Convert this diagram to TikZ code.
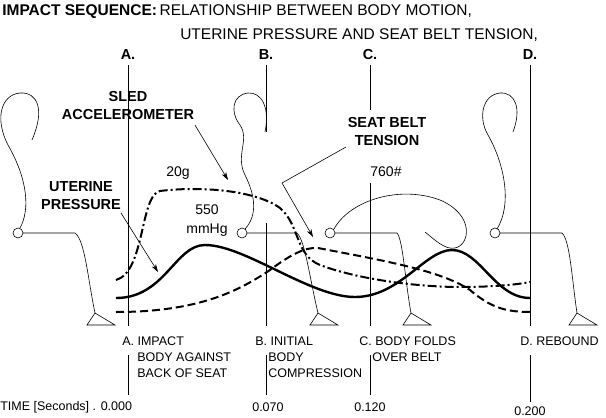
\documentclass[tikz,border=0pt]{standalone}
\usepackage{fontspec}
\setmainfont{Liberation Sans}
\usetikzlibrary{arrows.meta}

\begin{document}
\begin{tikzpicture}[
        x = 1pt, y = -1pt,
        > = {Stealth[length=8pt, width=5pt]}, % arrow head style
        semithick, % line style
        lbl/.style = {font=\fontsize{14.5}{15}\selectfont\bfseries, align=center, inner sep=0pt},
        note/.style = {font=\fontsize{14}{15}\selectfont, inner sep=0pt},
        small/.style = {font=\fontsize{12.5}{16}\selectfont, align=left, anchor=west, inner sep=0pt},
        tline/.style = {-, line width=0.6pt},
        body/.style = {line width=0.6pt}
    ]

    \useasboundingbox (0,0) rectangle (606,418);

    % title
    \node[anchor=west, inner sep=0pt, font=\fontsize{15.5}{16}\selectfont] (T1) at (2,12)
        {\textbf{IMPACT SEQUENCE:}\,RELATIONSHIP BETWEEN BODY MOTION,};
    \node[anchor=west, inner sep=0pt, font=\fontsize{15.5}{16}\selectfont] (T2) at (180,35)
        {UTERINE PRESSURE AND SEAT BELT TENSION,};

    % time marks
    \node[lbl] (A) at (128,55) {A.};
    \node[lbl] (B) at (266,55) {B.};
    \node[lbl] (C) at (370,55) {C.};
    \node[lbl] (D) at (530,55) {D.};
    \foreach \n/\x/\e in {A/128/395, B/266/395, C/370/395, D/530/402} {
        \coordinate (\n e) at (\x,326);
        \coordinate (\n f) at (\x,355);
        \coordinate (\n b) at (\x,\e);
        \draw[tline] (\n f) -- (\n b);
    }
    \coordinate (Bm) at (266,132);
    \coordinate (Bn) at (266,223);
    \coordinate (Cm) at (370,110);
    \coordinate (Cn) at (370,183);
    \draw[tline] (A) ++(0,10) -- (Ae);
    \draw[tline] (B) ++(0,10) -- (Bm);
    \draw[tline] (Bn) -- (Be);
    \draw[tline] (C) ++(0,10) -- (Cm);
    \draw[tline] (Cn) -- (Ce);
    \draw[tline] (D) ++(0,10) -- (De);

    % seated figures
    \draw[body] (32,140) .. controls (45,110) and (38,92) .. (20,93)
        .. controls (0,95) and (-5,120) .. (8,145)
        .. controls (28,180) and (30,210) .. (20,228);
    \draw[body] (18,233) circle (5);
    \draw[body] (23,233) -- (75,233) .. controls (85,240) and (88,280) .. (95,313);
    \draw[body] (87,325) -- (95,313) -- (115,325) -- cycle;

    \draw[body] (265,132) .. controls (270,108) and (262,92) .. (248,93)
        .. controls (232,95) and (230,112) .. (240,125)
        .. controls (250,140) and (235,155) .. (245,175)
        .. controls (255,195) and (258,215) .. (245,229);
    \draw[body] (242,233) circle (5);
    \draw[body] (247,233) -- (297,233) .. controls (305,240) and (310,280) .. (318,313);
    \draw[body] (310,325) -- (318,313) -- (338,325) -- cycle;

    \draw[body] (334,229) .. controls (350,200) and (400,185) .. (440,200)
        .. controls (475,215) and (470,245) .. (455,248)
        .. controls (445,250) and (435,240) .. (425,232);
    \draw[body] (330,233) circle (5);
    \draw[body] (335,233) -- (397,233) .. controls (403,240) and (405,280) .. (411,313);
    \draw[body] (403,325) -- (411,313) -- (431,325) -- cycle;

    \draw[body] (513,132) .. controls (522,108) and (515,92) .. (500,93)
        .. controls (482,95) and (478,118) .. (488,135)
        .. controls (505,165) and (512,205) .. (497,229);
    \draw[body] (495,233) circle (5);
    \draw[body] (500,233) -- (562,233) .. controls (570,240) and (572,280) .. (577,313);
    \draw[body] (569,325) -- (577,313) -- (597,325) -- cycle;

    % curves
    \draw[-, line width=2.4pt] (116,298) .. controls (165,298) and (175,245) .. (205,245)
        .. controls (245,245) and (310,297) .. (355,297)
        .. controls (400,297) and (425,250) .. (452,250)
        .. controls (480,250) and (495,298) .. (530,298);
    \draw[-, line width=2pt, dash pattern=on 9pt off 3pt on 2pt off 3pt]
        (116,280) .. controls (145,272) and (140,195) .. (160,191)
        .. controls (200,186) and (255,190) .. (280,208)
        .. controls (300,225) and (295,255) .. (320,265)
        .. controls (360,280) and (420,287) .. (460,287)
        .. controls (490,287) and (515,285) .. (530,282);
    \draw[-, line width=2pt, dash pattern=on 8pt off 4pt]
        (116,312) .. controls (200,312) and (240,290) .. (270,270)
        .. controls (290,255) and (305,247) .. (318,248)
        .. controls (380,260) and (440,270) .. (470,290)
        .. controls (490,307) and (505,312) .. (530,312);

    % labels
    \node[lbl] (Sled) at (128,106) {SLED\\[3pt]ACCELEROMETER};
    \node[lbl] (Belt) at (387,132) {SEAT BELT\\[3pt]TENSION};
    \node[lbl] (Uter) at (81,196) {UTERINE\\[3pt]PRESSURE};
    \coordinate (SledTip) at (228,180);
    \coordinate (BeltBend) at (282,183);
    \coordinate (BeltTip) at (313,237);
    \coordinate (UterTip) at (158,272);
    \draw[body, ->] (195,125) -- (SledTip);
    \draw[body] (346,147) -- (BeltBend);
    \draw[body, ->] (BeltBend) -- (BeltTip);
    \draw[body, ->] (121,213) -- (UterTip);
    \node[note] (G) at (178,173) {20g};
    \node[note, align=center] (P) at (207,221) {550\\[4pt]mmHg};
    \node[note] (L) at (386,172) {760\#};

    % phase notes
    \node[small] (nA) at (122,341) {A. IMPACT};
    \node[small] (nA2) at (137,365) {BODY AGAINST\\BACK OF SEAT};
    \node[small] (nB) at (255,341) {B. INITIAL};
    \node[small] (nB2) at (268,365) {BODY\\COMPRESSION};
    \node[small] (nC) at (359,341) {C. BODY FOLDS};
    \node[small] (nC2) at (372,357) {OVER BELT};
    \node[small] (nD) at (520,341) {D. REBOUND};

    % times
    \node[small] (t0) at (0,407) {TIME [Seconds] . 0.000};
    \node[small] (t1) at (252,407) {0.070};
    \node[small] (t2) at (354,407) {0.120};
    \node[small] (t3) at (514,411) {0.200};
\end{tikzpicture}
\end{document}
